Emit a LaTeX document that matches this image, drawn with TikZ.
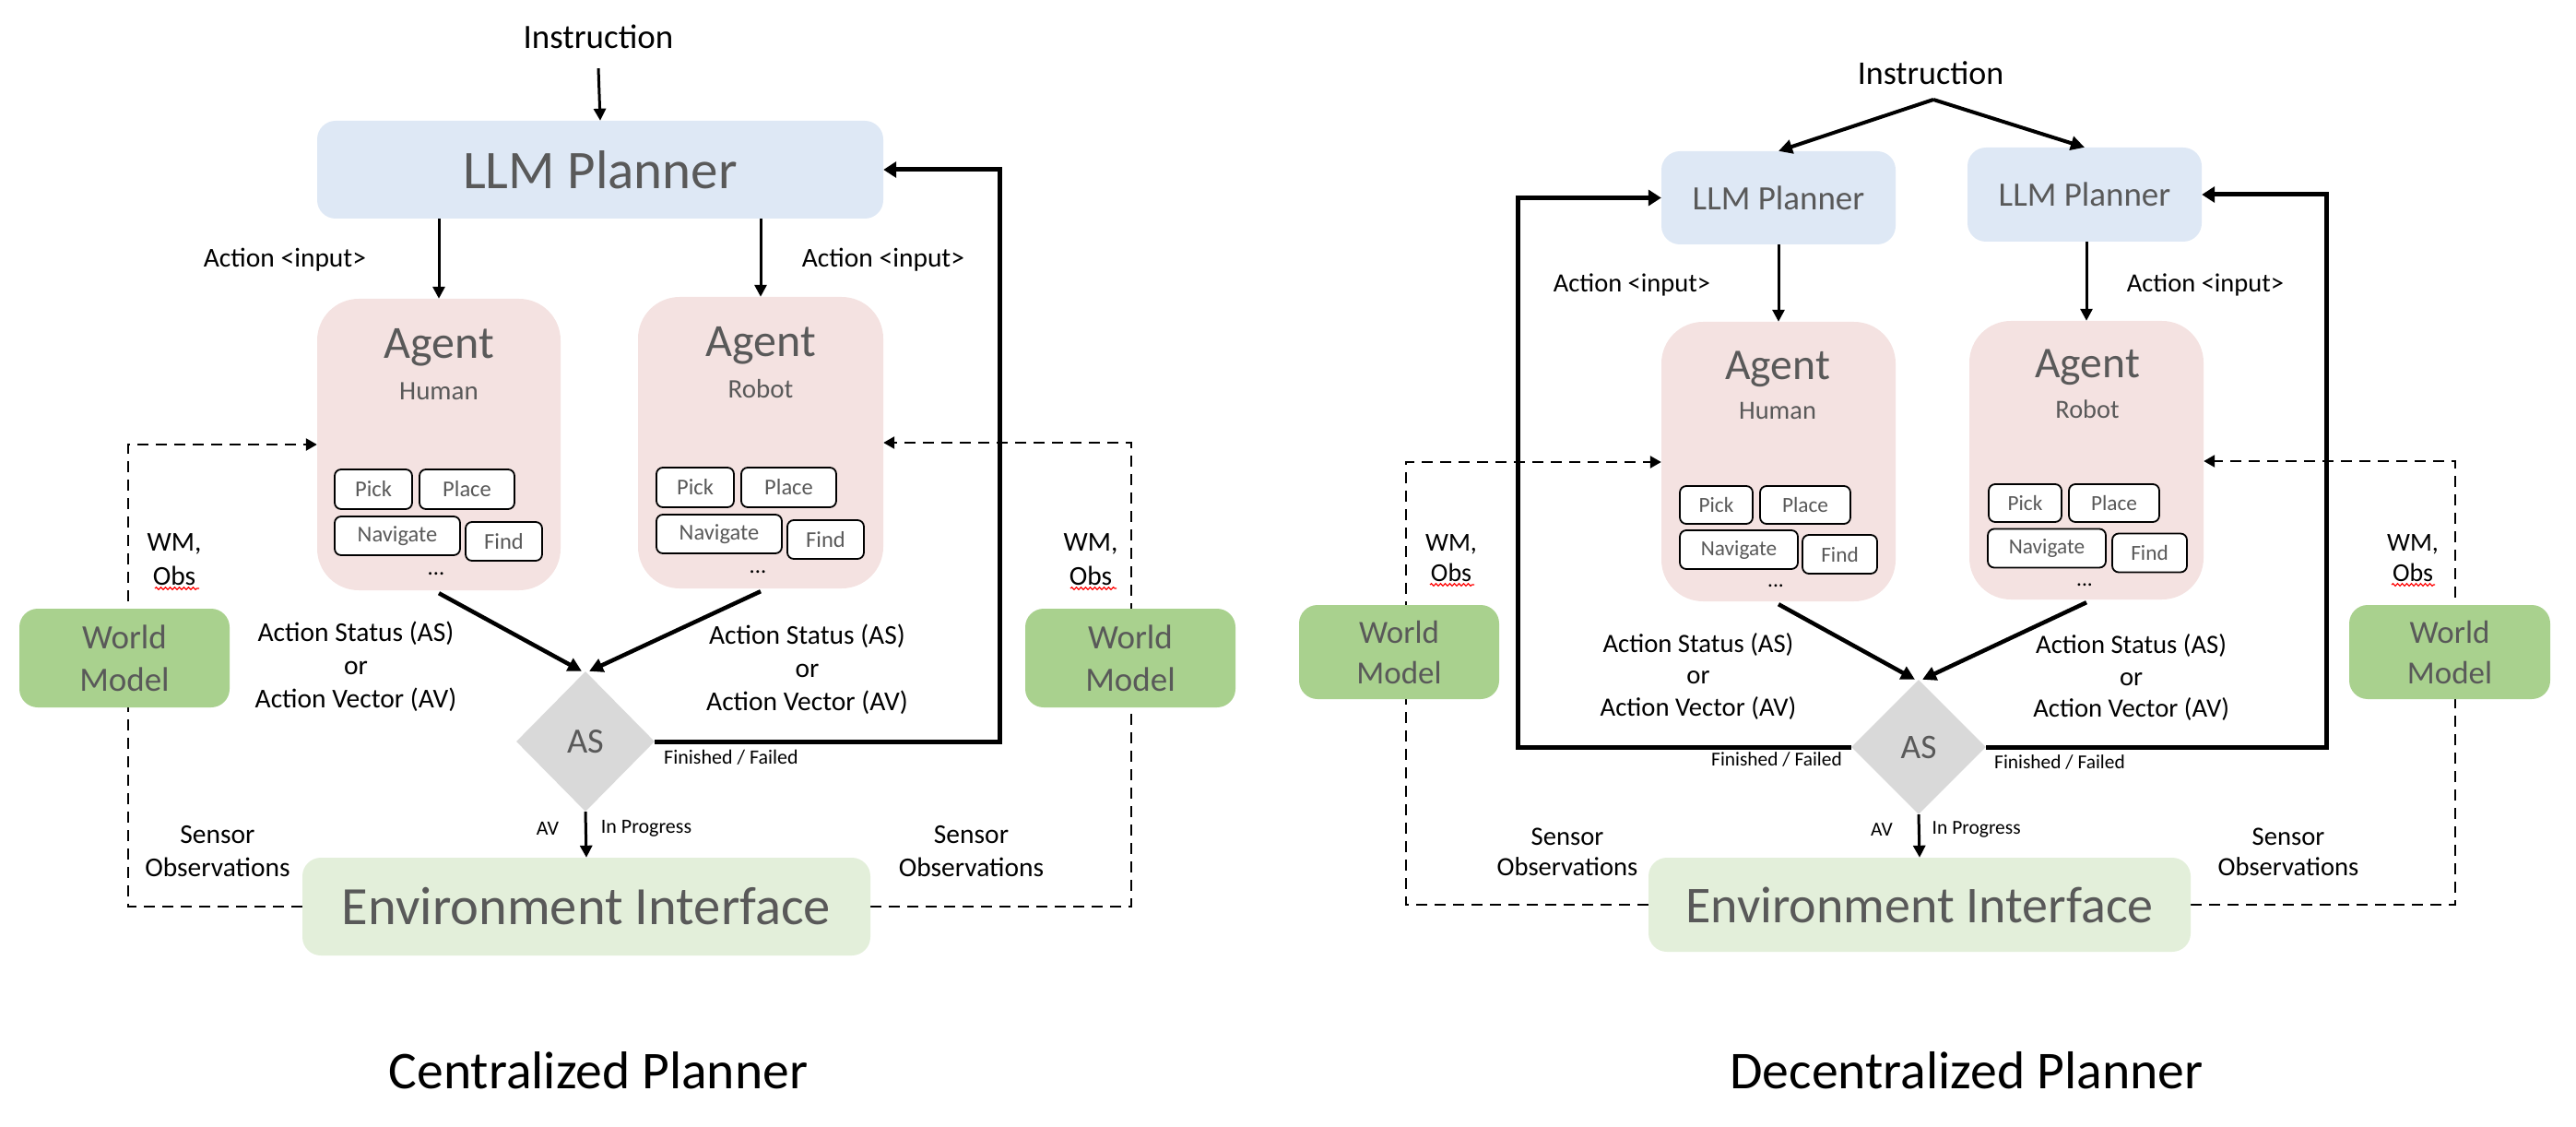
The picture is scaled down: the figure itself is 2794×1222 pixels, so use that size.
\documentclass[tikz,border=0pt]{standalone}
\usepackage{fontspec}
\setmainfont{Carlito}
\usetikzlibrary{arrows.meta,shapes.geometric,decorations.pathmorphing,calc}
\pgfdeclarelayer{background}
\pgfsetlayers{background,main}
\definecolor{planfill}{HTML}{DEE8F5}
\definecolor{agentfill}{HTML}{F4E2E1}
\definecolor{wmfill}{HTML}{A9D18E}
\definecolor{envfill}{HTML}{E3EFDA}
\definecolor{diafill}{HTML}{D9D9D9}
\definecolor{txtgray}{HTML}{595959}
\newcommand\fsz[2]{\fontsize{#1pt}{#2pt}\selectfont}
\tikzset{
  lbl/.style={inner sep=0pt, align=center, text=black},
  planbox/.style={fill=planfill, rounded corners=20pt, inner sep=0pt, text=txtgray},
  agentbox/.style={fill=agentfill, rounded corners=45pt, inner sep=0pt},
  agtxt/.style={inner sep=0pt, text=txtgray},
  wmbox/.style={fill=wmfill, rounded corners=20pt, inner sep=0pt, text=txtgray, align=center},
  envbox/.style={fill=envfill, rounded corners=20pt, inner sep=0pt, text=txtgray},
  btn/.style={draw=black, line width=1.8pt, fill=white, rounded corners=7pt, inner sep=0pt, text=txtgray},
  decision/.style={diamond, fill=diafill, inner sep=0pt, text=txtgray},
  arrthin/.style={line width=3pt, -{Triangle[length=13pt,width=13pt]}},
  arrthick/.style={line width=4.5pt, -{Triangle[length=15pt,width=15pt]}},
  fbline/.style={line width=5pt, -{Triangle[length=14pt,width=17pt]}},
  obsline/.style={line width=2.5pt, dash pattern=on 12pt off 8pt, -{Triangle[length=12pt,width=13pt]}},
  squig/.style={red, line width=1.2pt, decorate, decoration={snake, amplitude=1.3pt, segment length=5pt}},
}
\begin{document}
\begin{tikzpicture}[x=1pt,y=-1pt]
\useasboundingbox (0,0) rectangle (2794,1222);

% ================= Centralized =================
\node[lbl, font=\fsz{37}{44}] (cInstr) at (649,40) {Instruction};
\node[planbox, minimum width=614pt, minimum height=106pt, font=\fsz{59}{70}] (cLLM) at (651,184) {LLM Planner};
\node[agentbox, minimum width=264pt, minimum height=316pt] (cHum) at (476,482) {};
\node[agentbox, minimum width=266pt, minimum height=316pt] (cRob) at (825,480) {};
\node[agtxt, font=\fsz{50}{60}] (cHumA) at (476,377) {Agent};
\node[agtxt, font=\fsz{29}{35}] (cHumB) at (476,424) {Human};
\node[agtxt, font=\fsz{50}{60}] (cRobA) at (825,375) {Agent};
\node[agtxt, font=\fsz{29}{35}] (cRobB) at (825,422) {Robot};
\begin{scope}[font=\fsz{24.5}{30}]
\node[btn, minimum width=84pt, minimum height=43pt] (cHp1) at (405,530.5) {Pick};
\node[btn, minimum width=103pt, minimum height=43pt] (cHp2) at (506.5,530.5) {Place};
\node[btn, minimum width=136pt, minimum height=42pt] (cHp3) at (431,581) {Navigate};
\node[btn, minimum width=83pt, minimum height=42pt] (cHp4) at (546.5,587) {Find};
\node[agtxt, text=black] (cHp5) at (473,622) {...};
\node[btn, minimum width=84pt, minimum height=43pt] (cRp1) at (754,528.5) {Pick};
\node[btn, minimum width=103pt, minimum height=43pt] (cRp2) at (855.5,528.5) {Place};
\node[btn, minimum width=136pt, minimum height=42pt] (cRp3) at (780,579) {Navigate};
\node[btn, minimum width=83pt, minimum height=42pt] (cRp4) at (895.5,585) {Find};
\node[agtxt, text=black] (cRp5) at (822,620) {...};
\end{scope}
\node[decision, minimum width=150pt, minimum height=152pt, font=\fsz{38.5}{46}] (cDia) at (635,804) {AS};
\node[envbox, minimum width=616pt, minimum height=106pt, font=\fsz{58.5}{70}] (cEnv) at (636,983) {Environment Interface};
\node[wmbox, minimum width=228pt, minimum height=107pt, font=\fsz{37}{46}] (cWML) at (135,713.5) {World\\Model};
\node[wmbox, minimum width=228pt, minimum height=107pt, font=\fsz{37}{46}] (cWMR) at (1226,713.5) {World\\Model};

\coordinate (cFB) at (1084,184);
\coordinate (cDL) at (139,482);
\coordinate (cDR) at (1227,480);

\draw[arrthin] ([yshift=-21pt]cInstr.south) -- (cLLM.north);
\draw[arrthin] (cLLM.south -| cHum.north) -- (cHum.north);
\draw[arrthin] (cLLM.south -| cRob.north) -- (cRob.north);
\draw[arrthick] ([yshift=-3pt]cHum.south) -- ([xshift=-4pt]cDia.north);
\draw[arrthick] ([yshift=-3pt]cRob.south) -- ([xshift=4pt]cDia.north);
\draw[fbline] (cDia.east) -| (cFB) -- (cLLM.east);
\draw[arrthin] (cDia.south) -- (cEnv.north);
\begin{pgfonlayer}{background}
\draw[obsline] (cEnv.west) -| (cDL) -- (cDL -| cHum.west);
\draw[obsline] (cEnv.east) -| (cDR) -- (cDR -| cRob.east);
\end{pgfonlayer}

\node[lbl, font=\fsz{29.5}{36}] (cAI1) at (309,282) {Action <input>};
\node[lbl, font=\fsz{29.5}{36}] (cAI2) at (958,282) {Action <input>};
\node[lbl, font=\fsz{29.5}{36}] (cAS1) at (386,723) {Action Status (AS)\\or\\Action Vector (AV)};
\node[lbl, font=\fsz{29.5}{36}] (cAS2) at (875.5,726) {Action Status (AS)\\or\\Action Vector (AV)};
\node[lbl, font=\fsz{22}{26}, anchor=west] (cFF) at (720,821) {Finished / Failed};
\node[lbl, font=\fsz{22}{26}] (cAV) at (594,898) {AV};
\node[lbl, font=\fsz{22}{26}] (cIP) at (701,898) {In Progress};
\node[lbl, font=\fsz{29.5}{37}] (cWO1) at (189,607) {WM,\\Obs};
\node[lbl, font=\fsz{29.5}{37}] (cWO2) at (1183,607) {WM,\\Obs};
\node[lbl, font=\fsz{29.5}{36}] (cSO1) at (236,923) {Sensor\\Observations};
\node[lbl, font=\fsz{29.5}{36}] (cSO2) at (1053.5,923) {Sensor\\Observations};
\node[lbl, font=\fsz{57.6}{70}] (cTitle) at (649,1161) {Centralized Planner};
\draw[squig] (168,638) -- (216,638);
\draw[squig] (1161,638) -- (1211,638);

% ================= Decentralized =================
\node[lbl, font=\fsz{36}{44}] (dInstr) at (2094,79) {Instruction};
\coordinate (dApex) at (2097,108);
\node[planbox, minimum width=254pt, minimum height=101pt, font=\fsz{37}{44}] (dLLM1) at (1929,214.5) {LLM Planner};
\node[planbox, minimum width=254pt, minimum height=102pt, font=\fsz{37}{44}] (dLLM2) at (2261,211) {LLM Planner};
\node[agentbox, minimum width=254pt, minimum height=303pt] (dHum) at (1929,500.5) {};
\node[agentbox, minimum width=254pt, minimum height=302pt] (dRob) at (2263,499) {};
\node[agtxt, font=\fsz{47.6}{56}] (dHumA) at (1928,400) {Agent};
\node[agtxt, font=\fsz{28.4}{34}] (dHumB) at (1928,445.6) {Human};
\node[agtxt, font=\fsz{47.6}{56}] (dRobA) at (2264,398) {Agent};
\node[agtxt, font=\fsz{28.4}{34}] (dRobB) at (2264,443.5) {Robot};
\begin{scope}[font=\fsz{23.3}{28}]
\node[btn, minimum width=79pt, minimum height=41pt] (dHp1) at (1861.5,547.5) {Pick};
\node[btn, minimum width=98pt, minimum height=41pt] (dHp2) at (1958,547.5) {Place};
\node[btn, minimum width=128pt, minimum height=42pt] (dHp3) at (1886,596) {Navigate};
\node[btn, minimum width=81pt, minimum height=42pt] (dHp4) at (1995.5,601) {Find};
\node[agtxt, text=black] (dHp5) at (1926,635.5) {...};
\node[btn, minimum width=79pt, minimum height=41pt] (dRp1) at (2196.5,545.5) {Pick};
\node[btn, minimum width=98pt, minimum height=41pt] (dRp2) at (2293,545.5) {Place};
\node[btn, minimum width=128pt, minimum height=42pt] (dRp3) at (2220,594.5) {Navigate};
\node[btn, minimum width=81pt, minimum height=42pt] (dRp4) at (2331.5,599.5) {Find};
\node[agtxt, text=black] (dRp5) at (2261,634) {...};
\end{scope}
\node[decision, minimum width=146pt, minimum height=146pt, font=\fsz{37.4}{45}] (dDia) at (2081,810) {AS};
\node[envbox, minimum width=588pt, minimum height=102pt, font=\fsz{56}{67}] (dEnv) at (2082,981) {Environment Interface};
\node[wmbox, minimum width=217pt, minimum height=102pt, font=\fsz{35}{44}] (dWML) at (1517.5,707) {World\\Model};
\node[wmbox, minimum width=218pt, minimum height=102pt, font=\fsz{35}{44}] (dWMR) at (2657,707) {World\\Model};

\coordinate (dFBL) at (1646,214.5);
\coordinate (dFBR) at (2523,211);
\coordinate (dDL) at (1525,501);
\coordinate (dDR) at (2663,500);

\draw[arrthick, line width=4pt] (dApex) -- (dLLM1.north);
\draw[arrthick, line width=4pt] (dApex) -- (dLLM2.north);
\draw[arrthin] (dLLM1.south) -- (dLLM1.south |- dHum.north);
\draw[arrthin] (dLLM2.south -| dRob.north) -- (dRob.north);
\draw[arrthick] ([yshift=-3pt]dHum.south) -- ([xshift=-4pt]dDia.north);
\draw[arrthick] ([yshift=-3pt]dRob.south) -- ([xshift=4pt]dDia.north);
\draw[fbline] (dDia.west) -| (dFBL) -- (dLLM1.west);
\draw[fbline] (dDia.east) -| (dFBR) -- (dLLM2.east);
\draw[arrthin] (dDia.south) -- (dEnv.north);
\begin{pgfonlayer}{background}
\draw[obsline] (dEnv.west) -| (dDL) -- (dDL -| dHum.west);
\draw[obsline] (dEnv.east) -| (dDR) -- (dDR -| dRob.east);
\end{pgfonlayer}

\node[lbl, font=\fsz{28.5}{35}] (dAI1) at (1770,309) {Action <input>};
\node[lbl, font=\fsz{28.5}{35}] (dAI2) at (2392,309) {Action <input>};
\node[lbl, font=\fsz{28.7}{34.5}] (dAS1) at (1842,733) {Action Status (AS)\\or\\Action Vector (AV)};
\node[lbl, font=\fsz{28.7}{34.5}] (dAS2) at (2311.6,734.5) {Action Status (AS)\\or\\Action Vector (AV)};
\node[lbl, font=\fsz{21.4}{26}] (dFF1) at (1927,824) {Finished / Failed};
\node[lbl, font=\fsz{21.4}{26}] (dFF2) at (2234,827) {Finished / Failed};
\node[lbl, font=\fsz{21.5}{26}] (dAV) at (2041,900) {AV};
\node[lbl, font=\fsz{21.5}{26}] (dIP) at (2143.7,899.5) {In Progress};
\node[lbl, font=\fsz{28}{33}] (dWO1) at (1574,605) {WM,\\Obs};
\node[lbl, font=\fsz{28}{33}] (dWO2) at (2617,605) {WM,\\Obs};
\node[lbl, font=\fsz{28.6}{33.5}] (dSO1) at (1700,924) {Sensor\\Observations};
\node[lbl, font=\fsz{28.6}{33.5}] (dSO2) at (2482,924) {Sensor\\Observations};
\node[lbl, font=\fsz{57.7}{70}] (dTitle) at (2133,1161) {Decentralized Planner};
\draw[squig] (1551,634) -- (1599,634);
\draw[squig] (2594,634) -- (2641,634);
\end{tikzpicture}
\end{document}
